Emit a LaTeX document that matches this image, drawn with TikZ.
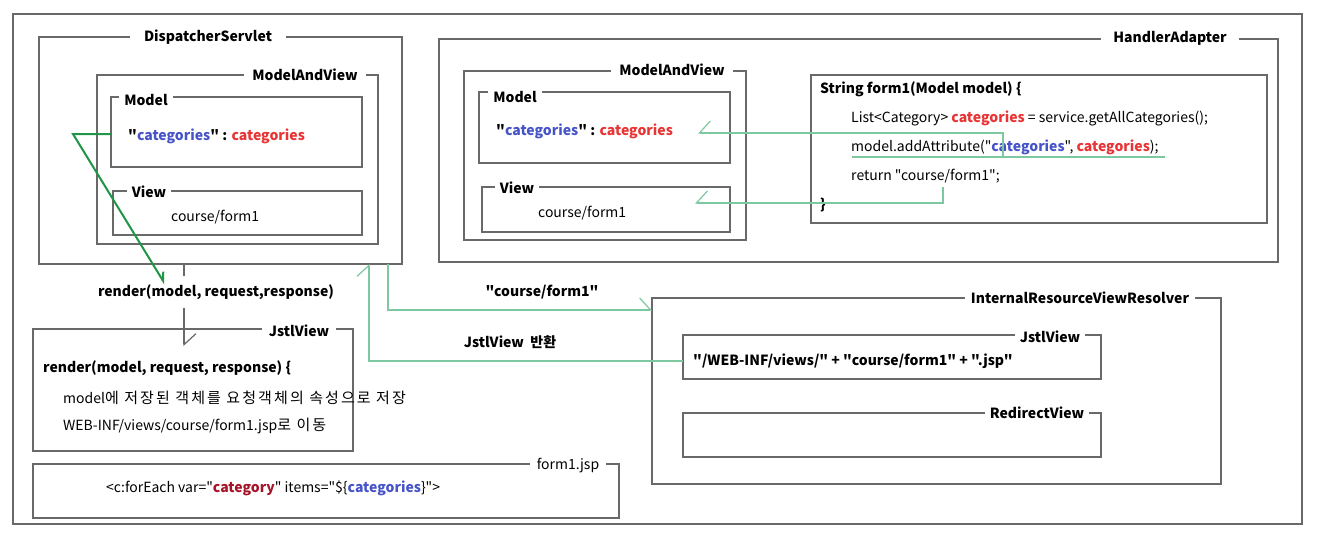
\documentclass[tikz,border=0pt]{standalone}
\usepackage{fontspec}
\setmainfont{Noto Sans CJK KR}[Ligatures=TeXOff]
\usetikzlibrary{arrows.meta,positioning}
\definecolor{boxgray}{RGB}{105,105,105}
\definecolor{keyblue}{RGB}{70,84,200}
\definecolor{valred}{RGB}{232,52,52}
\definecolor{varred}{RGB}{165,20,40}
\definecolor{flowgreen}{RGB}{30,150,70}
\definecolor{palegreen}{RGB}{125,200,160}
\newcommand{\hangul}[1]{{\fontsize{15}{16}\selectfont\addfontfeature{LetterSpace=14}#1}}
\tikzset{
  frame/.style={draw=boxgray, line width=1.2pt, inner sep=0pt, outer sep=0pt, anchor=north west},
  title/.style={fill=white, inner xsep=8pt, inner ysep=1pt, font=\bfseries\fontsize{14}{16}\selectfont},
  txt/.style={inner sep=0pt, anchor=west, font=\fontsize{14}{16}\selectfont},
  pale/.style={draw=palegreen, line width=1.2pt},
  barbL/.tip={Straight Barb[harpoon, length=11pt, width=24pt, line width=1.2pt]},
  barbR/.tip={Straight Barb[harpoon, swap, length=11pt, width=24pt, line width=1.2pt]}
}
\begin{document}
\begin{tikzpicture}[x=1pt, y=-1pt]
  \useasboundingbox (0,0) rectangle (1322,536);
  \node[frame, minimum width=1289pt, minimum height=510pt] (outer) at (13,14) {};
  % DispatcherServlet
  \node[frame, minimum width=363pt, minimum height=227pt] (ds) at (39,37) {};
  \node[frame, minimum width=281pt, minimum height=169pt] (mav1) at (97,75) {};
  \node[frame, minimum width=251pt, minimum height=70pt] (model1) at (111,97) {};
  \node[frame, minimum width=249pt, minimum height=44pt] (view1) at (113,191) {};
  \node[title, inner xsep=14pt] (dsT) at (208,37) {DispatcherServlet};
  \node[title] (mav1T) at (305,75) {ModelAndView};
  \node[title, inner xsep=5pt] (model1T) at (146,100) {Model};
  \node[title, inner xsep=5pt] (view1T) at (149,192) {View};
  \node[txt, font=\bfseries\fontsize{14}{16}\selectfont] (m1txt) at (128,136)
    {"\textcolor{keyblue}{categories}" : \textcolor{valred}{categories}};
  \node[txt] (v1txt) at (171,217) {course/form1};
  % HandlerAdapter
  \node[frame, minimum width=839pt, minimum height=223pt] (ha) at (439,39) {};
  \node[frame, minimum width=282pt, minimum height=169pt] (mav2) at (464,71) {};
  \node[frame, minimum width=251pt, minimum height=71pt] (model2) at (479,92) {};
  \node[frame, minimum width=248pt, minimum height=45pt] (view2) at (482,187) {};
  \node[frame, minimum width=456pt, minimum height=148pt] (code) at (811,75) {};
  \node[title, inner xsep=12pt] (haT) at (1170,38) {HandlerAdapter};
  \node[title] (mav2T) at (672,70) {ModelAndView};
  \node[title, inner xsep=5pt] (model2T) at (515,97) {Model};
  \node[title, inner xsep=5pt] (view2T) at (517,188) {View};
  \node[txt, font=\bfseries\fontsize{14}{16}\selectfont] (m2txt) at (496,131)
    {"\textcolor{keyblue}{categories}" : \textcolor{valred}{categories}};
  \node[txt] (v2txt) at (538,213) {course/form1};
  \node[txt, font=\bfseries\fontsize{14}{16}\selectfont] (code1) at (820,89) {String form1(Model model) \{};
  \node[txt] (code2) at (851,118) {List<Category> \textcolor{valred}{\bfseries categories} = service.getAllCategories();};
  \node[txt] (code3) at (851,147) {model.addAttribute("\textcolor{keyblue}{\bfseries categories}", \textcolor{valred}{\bfseries categories});};
  \node[txt] (code4) at (851,176) {return "course/form1";};
  \node[txt, font=\bfseries\fontsize{14}{16}\selectfont] (code5) at (820,205) {\}};
  % InternalResourceViewResolver
  \node[frame, minimum width=569pt, minimum height=186pt] (irvr) at (652,298) {};
  \node[frame, minimum width=418pt, minimum height=44pt] (jv2) at (683,335) {};
  \node[frame, minimum width=418pt, minimum height=44pt] (rv) at (683,413) {};
  \node[title, inner xsep=6pt] (irvrT) at (1080,298) {InternalResourceViewResolver};
  \node[title, inner xsep=5pt] (jv2T) at (1050,337) {JstlView};
  \node[title, inner xsep=5pt] (rvT) at (1037,413) {RedirectView};
  \node[txt, font=\bfseries\fontsize{14}{16}\selectfont] (jv2txt) at (693,361)
    {"/WEB-INF/views/" + "course/form1" + ".jsp"};
  % JstlView, form1.jsp
  \node[frame, minimum width=320pt, minimum height=122pt] (jv1) at (33,329) {};
  \node[frame, minimum width=586pt, minimum height=54pt] (jsp) at (33,464) {};
  \node[title, inner xsep=7pt] (jv1T) at (299,331) {JstlView};
  \node[title, inner xsep=7pt, font=\fontsize{14}{16}\selectfont] (jspT) at (568,466) {form1.jsp};
  \node[txt, font=\bfseries\fontsize{14}{16}\selectfont] (jv1a) at (43,368) {render(model, request, response) \{};
  \node[txt] (jv1b) at (63,398) {model\hangul{에 저장된 객체를 요청객체의 속성으로 저장}};
  \node[txt] (jv1c) at (63,426) {WEB-INF/views/course/form1.jsp\hangul{로 이동}};
  \node[txt] (jsptxt) at (106,488)
    {<c:forEach var="\textcolor{varred}{\bfseries category}" items="\$\{\textcolor{keyblue}{\bfseries categories}\}">};
  % connectors
  \coordinate (attrKey) at (1003,157);
  \coordinate (m2in) at (698,133);
  \coordinate (retStr) at (943,187);
  \coordinate (v2in) at (695,203);
  \coordinate (rArg) at (165,284);
  \draw[pale] (852,157) -- (1165,157);
  \draw[pale, -barbR] (attrKey) |- (m2in);
  \draw[pale, -barbR] (retStr) |- (v2in);
  \draw[draw=boxgray, line width=1.2pt, -barbL] ([xshift=145pt]ds.south west) -- ([xshift=151pt, yshift=-17pt]jv1.north west);
  \node[fill=white, inner xsep=0pt, inner ysep=9pt, font=\bfseries\fontsize{14}{16}\selectfont] (renderT) at (216,292) {render(model, request,response)};
  \draw[pale, -barbL] ([xshift=-14pt]ds.south east) |- ([yshift=-12pt]irvr.north west);
  \draw[pale, -barbL] ([yshift=-4pt]jv2.west) -| ([xshift=-33pt]ds.south east);
  \node[font=\bfseries\fontsize{14}{16}\selectfont] (cfT) at (542,292) {"course/form1"};
  \node[font=\bfseries\fontsize{14}{16}\selectfont] (jvretT) at (510,342) {JstlView~~반환};
  \draw[draw=flowgreen, line width=2pt, -{Straight Barb[harpoon, length=8pt, width=10pt, line width=2pt]}]
    (model1.west |- 0,134) -- (73,134) -- (rArg);
\end{tikzpicture}
\end{document}
